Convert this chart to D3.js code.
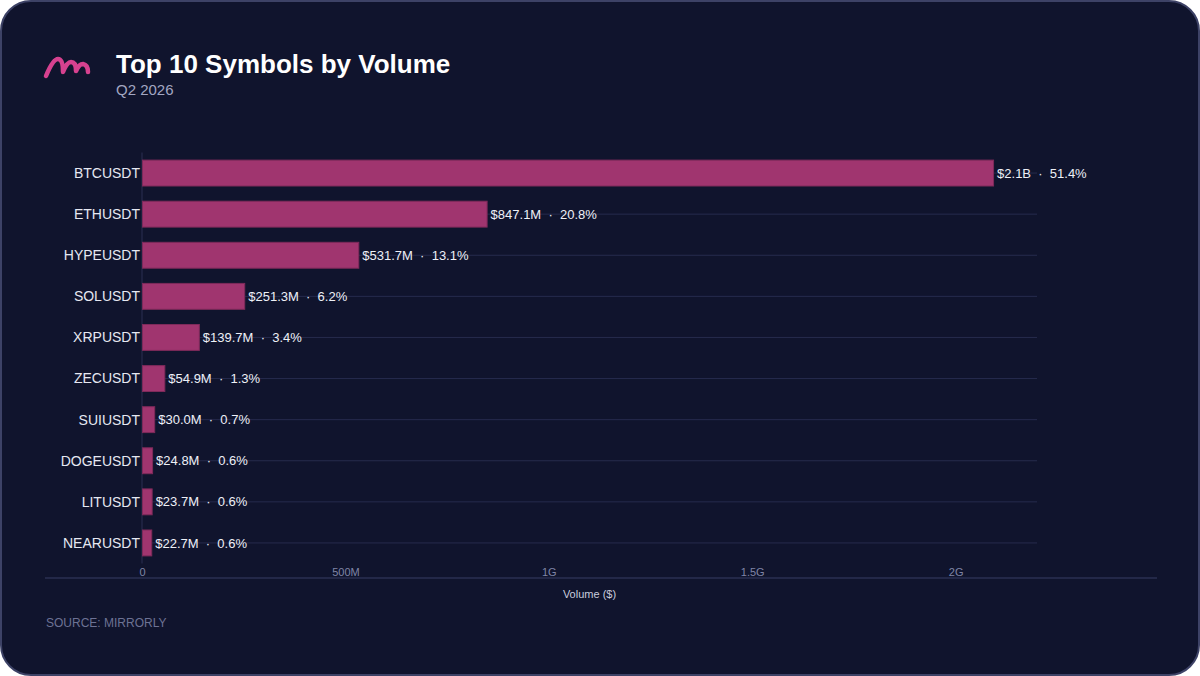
<!DOCTYPE html>
<html>
<head>
<meta charset="utf-8">
<script src="https://cdn.jsdelivr.net/npm/d3@7"></script>
<style>
  html, body { margin: 0; padding: 0; background: #ffffff; }
  svg { display: block; font-family: "Liberation Sans", Arial, sans-serif; }
</style>
</head>
<body>
<div id="chart"></div>
<script>
// Data
const symbols = ['BTCUSDT', 'ETHUSDT', 'HYPEUSDT', 'SOLUSDT', 'XRPUSDT',
  'ZECUSDT', 'SUIUSDT', 'DOGEUSDT', 'LITUSDT', 'NEARUSDT'];
const volumes = [2.092e9, 847.1e6, 531.7e6, 251.3e6, 139.7e6,
  54.9e6, 30.0e6, 24.8e6, 23.7e6, 22.7e6];
const shares = [51.4, 20.8, 13.1, 6.2, 3.4, 1.3, 0.7, 0.6, 0.6, 0.6];
const xTicks = [0, 5e8, 1e9, 1.5e9, 2e9];
const xTickLabels = ['0', '500M', '1G', '1.5G', '2G'];

const W = 1200, H = 676;
const margin = { left: 142, right: 163, top: 152.5, bottom: 112.5 };

const svg = d3.select('#chart').append('svg')
  .attr('width', W)
  .attr('height', H);

// card background
svg.append('rect')
  .attr('x', 1).attr('y', 1)
  .attr('width', W - 2).attr('height', H - 2)
  .attr('rx', 30).attr('ry', 30)
  .attr('fill', '#10142d')
  .attr('stroke', '#3d4266')
  .attr('stroke-width', 2);

// logo
svg.append('path')
  .attr('d', 'M46,76 Q53,59 58,59 Q63,59 63,72 Q67,62 71,62 Q76,62 76,71 Q79,64 83,64 Q88,65 88,72')
  .attr('fill', 'none')
  .attr('stroke', '#d6418f')
  .attr('stroke-width', 4.5)
  .attr('stroke-linecap', 'round')
  .attr('stroke-linejoin', 'round');

// title + subtitle
svg.append('text')
  .attr('x', 116).attr('y', 73)
  .attr('fill', '#ffffff')
  .attr('font-size', 26)
  .attr('font-weight', 700)
  .text('Top 10 Symbols by Volume');

svg.append('text')
  .attr('x', 116).attr('y', 95)
  .attr('fill', '#a3a7c2')
  .attr('font-size', 15)
  .text('Q2 2026');

// scales
const xScale = d3.scaleLinear()
  .domain([0, 2.2e9])
  .range([margin.left, W - margin.right]);

const yScale = d3.scaleBand()
  .domain(symbols)
  .range([margin.top, H - margin.bottom])
  .paddingInner(0.37)
  .paddingOuter(0.185);

const g = svg.append('g');

// gridlines through band centers
g.selectAll('.grid')
  .data(symbols)
  .enter()
  .append('line')
  .attr('class', 'grid')
  .attr('x1', xScale(0))
  .attr('x2', xScale(2.2e9))
  .attr('y1', d => yScale(d) + yScale.bandwidth() / 2)
  .attr('y2', d => yScale(d) + yScale.bandwidth() / 2)
  .attr('stroke', '#262b4d')
  .attr('stroke-width', 1);

// y axis line
g.append('line')
  .attr('x1', xScale(0)).attr('x2', xScale(0))
  .attr('y1', margin.top).attr('y2', H - margin.bottom)
  .attr('stroke', '#2a2f52')
  .attr('stroke-width', 1);

// bars
g.selectAll('.bar')
  .data(symbols)
  .enter()
  .append('rect')
  .attr('class', 'bar')
  .attr('x', xScale(0) + 0.5)
  .attr('y', d => yScale(d))
  .attr('width', (d, i) => xScale(volumes[i]) - xScale(0))
  .attr('height', yScale.bandwidth())
  .attr('fill', '#a0356f')
  .attr('stroke', '#7e2a5a')
  .attr('stroke-width', 1);

// category labels
g.selectAll('.cat')
  .data(symbols)
  .enter()
  .append('text')
  .attr('class', 'cat')
  .attr('x', xScale(0) - 2)
  .attr('y', d => yScale(d) + yScale.bandwidth() / 2)
  .attr('dy', '0.35em')
  .attr('text-anchor', 'end')
  .attr('fill', '#e6e8f2')
  .attr('font-size', 14)
  .text(d => d);

// value labels
const fmtVol = v => v >= 1e9 ? '$' + (v / 1e9).toFixed(1) + 'B' : '$' + (v / 1e6).toFixed(1) + 'M';
g.selectAll('.val')
  .data(symbols)
  .enter()
  .append('text')
  .attr('class', 'val')
  .attr('x', (d, i) => xScale(volumes[i]) + 4)
  .attr('y', d => yScale(d) + yScale.bandwidth() / 2)
  .attr('dy', '0.35em')
  .attr('fill', '#eef0f7')
  .attr('font-size', 13)
  .attr('xml:space', 'preserve')
  .text((d, i) => fmtVol(volumes[i]) + '  \u00b7  ' + shares[i].toFixed(1) + '%');

// x axis baseline
svg.append('line')
  .attr('x1', 45).attr('x2', 1157)
  .attr('y1', 578).attr('y2', 578)
  .attr('stroke', '#2a2f52')
  .attr('stroke-width', 1.5);

// x tick labels
const xAxis = d3.axisBottom(xScale)
  .tickValues(xTicks)
  .tickFormat((d, i) => xTickLabels[i])
  .tickSize(0)
  .tickPadding(0);

const axisG = svg.append('g')
  .attr('transform', 'translate(0, 568)')
  .call(xAxis);
axisG.select('.domain').remove();
axisG.selectAll('text')
  .attr('fill', '#7f84a6')
  .attr('font-size', 11)
  .attr('font-family', '"Liberation Sans", Arial, sans-serif');

// x axis title
svg.append('text')
  .attr('x', xScale(1.1e9))
  .attr('y', 598)
  .attr('text-anchor', 'middle')
  .attr('fill', '#c9ccdd')
  .attr('font-size', 11)
  .text('Volume ($)');

// source
svg.append('text')
  .attr('x', 46).attr('y', 627)
  .attr('fill', '#6d7294')
  .attr('font-size', 12)
  .text('SOURCE: MIRRORLY');
</script>
</body>
</html>
